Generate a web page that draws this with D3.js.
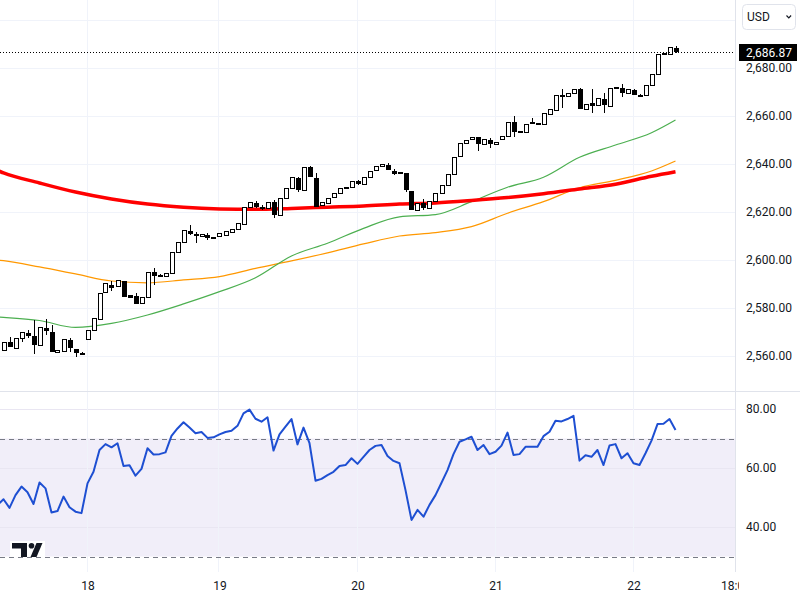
<!DOCTYPE html>
<html>
<head>
<meta charset="utf-8">
<script src="https://cdn.jsdelivr.net/npm/d3@7"></script>
<style>
  body { margin: 0; background: #fff; }
  svg { display: block; font-family: Roboto, "Noto Sans", sans-serif; }
</style>
</head>
<body>
<script>
// hourly candles, bar 0 = first visible bar
var open = [
  2562.8, 2565.7, 2563.2, 2567.4, 2569.7, 2568.3, 2564.6, 2571.5, 2569.9, 2561.7,
  2562.2, 2566.7, 2562.8, 2561.3, 2567.0, 2570.8, 2575.7, 2586.5, 2589.5, 2589.2,
  2591.2, 2585.4, 2585.0, 2582.0, 2584.7, 2595.1, 2593.7, 2593.6, 2594.4, 2603.2,
  2607.6, 2612.1, 2610.8, 2610.0, 2610.4, 2609.5, 2610.0, 2610.4, 2611.7, 2612.8,
  2615.0, 2622.0, 2623.9, 2622.2, 2622.0, 2624.0, 2618.5, 2625.7, 2629.9, 2634.0,
  2629.2, 2638.6, 2634.0, 2622.6, 2624.0, 2626.0, 2627.8, 2630.3, 2630.3, 2633.0,
  2631.7, 2634.5, 2637.5, 2639.2, 2639.6, 2637.2, 2636.4, 2636.1, 2628.9, 2620.5,
  2623.6, 2621.5, 2624.6, 2627.8, 2631.3, 2635.8, 2643.0, 2648.6, 2650.4, 2651.1,
  2648.2, 2650.0, 2648.6, 2650.4, 2651.7, 2657.4, 2653.4, 2653.2, 2657.4, 2656.9,
  2656.7, 2660.7, 2662.5, 2668.4, 2668.3, 2669.5, 2671.1, 2662.8, 2665.3, 2664.5,
  2667.0, 2663.9, 2672.0, 2671.5, 2669.5, 2670.8, 2668.9, 2668.75, 2672.9, 2677.5,
  2685.8, 2685.8, 2688.2
];
var high = [
  2566.0, 2568.0, 2567.4, 2569.9, 2570.8, 2575.0, 2571.9, 2575.3, 2572.9, 2562.5,
  2567.0, 2567.4, 2562.8, 2561.6, 2570.8, 2575.7, 2586.4, 2590.3, 2591.2, 2591.7,
  2591.2, 2585.4, 2586.4, 2584.7, 2595.0, 2596.5, 2594.0, 2594.7, 2603.2, 2607.4,
  2612.5, 2614.6, 2611.8, 2610.8, 2611.2, 2609.5, 2611.1, 2612.0, 2612.8, 2615.3,
  2622.2, 2624.0, 2624.5, 2623.0, 2624.3, 2625.0, 2625.7, 2629.9, 2634.5, 2634.7,
  2638.6, 2639.0, 2636.4, 2624.0, 2626.0, 2627.8, 2629.9, 2630.3, 2633.0, 2633.5,
  2634.5, 2637.2, 2639.2, 2639.9, 2640.5, 2637.8, 2636.7, 2636.4, 2628.9, 2623.6,
  2625.3, 2624.6, 2627.8, 2631.3, 2635.8, 2643.0, 2648.6, 2650.0, 2651.1, 2651.1,
  2650.4, 2651.0, 2649.3, 2651.5, 2657.6, 2660.0, 2653.7, 2656.5, 2659.2, 2657.1,
  2661.1, 2662.8, 2668.75, 2671.25, 2669.5, 2671.1, 2671.8, 2664.9, 2671.25, 2667.4,
  2669.7, 2671.5, 2672.0, 2673.3, 2671.1, 2671.1, 2669.2, 2672.9, 2677.5, 2685.8,
  2686.1, 2688.6, 2689.2
];
var low = [
  2562.8, 2563.6, 2563.2, 2566.0, 2567.4, 2560.8, 2564.6, 2568.8, 2561.8, 2561.7,
  2562.2, 2561.8, 2559.5, 2560.7, 2567.0, 2570.8, 2575.7, 2586.5, 2587.2, 2589.2,
  2585.1, 2584.7, 2581.7, 2582.0, 2584.7, 2589.6, 2593.7, 2593.6, 2594.4, 2603.2,
  2607.6, 2610.4, 2607.0, 2610.0, 2608.3, 2609.0, 2610.0, 2610.4, 2611.7, 2612.8,
  2615.0, 2622.0, 2621.5, 2621.0, 2622.0, 2617.6, 2618.5, 2625.7, 2629.9, 2628.5,
  2629.2, 2635.0, 2622.0, 2622.6, 2624.0, 2626.0, 2627.8, 2629.7, 2630.3, 2631.3,
  2631.7, 2634.5, 2637.5, 2639.2, 2637.5, 2635.4, 2636.3, 2628.5, 2621.0, 2620.5,
  2620.8, 2621.5, 2624.6, 2627.8, 2631.3, 2635.8, 2643.0, 2648.6, 2650.4, 2645.4,
  2648.2, 2646.8, 2648.6, 2650.4, 2651.7, 2651.4, 2653.4, 2653.2, 2657.2, 2656.9,
  2656.7, 2660.7, 2662.5, 2663.5, 2668.3, 2669.5, 2663.2, 2662.8, 2661.1, 2664.5,
  2661.1, 2663.9, 2671.4, 2667.8, 2669.5, 2668.8, 2668.3, 2668.75, 2672.9, 2677.5,
  2685.8, 2685.8, 2686.4
];
var close = [
  2566.0, 2563.9, 2567.4, 2569.9, 2569.0, 2564.9, 2571.9, 2570.5, 2561.8, 2562.5,
  2567.0, 2563.6, 2561.7, 2561.0, 2570.8, 2575.7, 2586.4, 2590.3, 2588.8, 2591.7,
  2585.1, 2584.7, 2582.2, 2584.7, 2595.0, 2594.0, 2593.9, 2594.7, 2603.2, 2607.4,
  2612.5, 2611.4, 2610.4, 2610.8, 2609.5, 2609.0, 2611.1, 2612.0, 2612.8, 2615.3,
  2622.2, 2624.0, 2622.8, 2622.0, 2624.3, 2618.8, 2625.7, 2629.9, 2634.5, 2629.5,
  2638.6, 2635.0, 2622.2, 2624.0, 2626.0, 2627.8, 2629.9, 2629.7, 2633.0, 2632.0,
  2634.5, 2637.2, 2639.2, 2639.9, 2637.8, 2636.4, 2636.6, 2629.5, 2621.5, 2623.6,
  2622.0, 2624.6, 2627.8, 2631.3, 2635.8, 2643.0, 2648.6, 2650.0, 2651.1, 2648.6,
  2650.4, 2648.9, 2649.3, 2651.5, 2657.6, 2653.5, 2653.7, 2656.5, 2657.5, 2657.1,
  2661.1, 2662.8, 2668.75, 2668.6, 2669.5, 2671.1, 2663.2, 2664.9, 2664.6, 2667.4,
  2664.9, 2671.5, 2671.4, 2669.7, 2671.1, 2669.2, 2668.7, 2672.9, 2677.5, 2685.8,
  2686.1, 2688.6, 2686.87
];
var lastPrice = 2686.87;

// moving averages, read every 6 bars
var maIdx = [-1, 0, 6, 12, 18, 24, 30, 36, 42, 48, 54, 60, 66, 72, 78, 84, 90, 96, 102, 108, 112];
var maRed = [2637.3, 2636.3, 2632.1, 2628.3, 2625.4, 2623.3, 2622.0, 2621.3, 2621.1, 2621.5, 2622.0,
  2622.5, 2623.3, 2623.8, 2624.8, 2626.0, 2627.6, 2629.6, 2631.6, 2634.9, 2636.8];
var maOrange = [2600.0, 2599.7, 2597.1, 2594.2, 2591.25, 2590.5, 2591.7, 2593.1, 2596.5, 2599.6, 2603.0,
  2606.7, 2610.0, 2611.4, 2613.9, 2619.5, 2624.3, 2630.1, 2633.2, 2637.1, 2641.25];
var maGreen = [2576.25, 2576.1, 2574.8, 2571.9, 2573.6, 2577.1, 2581.7, 2586.8, 2592.6, 2601.7, 2607.0,
  2613.2, 2618.0, 2618.9, 2624.3, 2630.3, 2634.5, 2642.8, 2647.9, 2653.0, 2658.3];

// RSI, first value belongs to bar -1
var rsiStart = -1;
var rsi = [
  47.5, 49.4, 46.5, 50.8, 53.7, 51.8, 47.8, 55.1, 53.1, 44.9, 45.4,
  50.3, 46.7, 45.2, 44.7, 54.8, 58.7, 66.1, 68.1, 67.0, 68.4,
  60.7, 60.9, 57.4, 59.7, 66.7, 64.6, 64.7, 65.3, 70.9, 73.4,
  75.5, 73.7, 71.8, 72.2, 70.2, 70.4, 71.4, 72.2, 72.6, 74.3,
  78.5, 79.8, 76.7, 75.7, 77.2, 65.9, 71.4, 74.0, 76.6, 68.0,
  73.7, 68.4, 55.7, 56.3, 57.6, 58.7, 60.7, 61.0, 63.3, 61.4,
  63.8, 66.1, 67.5, 67.8, 64.1, 62.4, 61.6, 52.5, 42.4, 45.8,
  43.5, 47.5, 50.8, 55.0, 59.3, 64.7, 68.9, 69.7, 70.6, 66.1,
  67.8, 64.7, 65.5, 67.6, 72.0, 64.4, 64.7, 67.2, 67.2, 67.2,
  70.8, 72.3, 76.0, 75.8, 76.6, 77.7, 62.5, 64.3, 63.8, 66.1,
  61.0, 67.6, 68.1, 63.3, 65.0, 61.6, 61.0, 65.0, 69.3, 74.9,
  75.0, 76.6, 72.9
];

// time axis
var dayIdx = [14, 36, 59, 82, 105, 122];
var dayLabels = ['18', '19', '20', '21', '22', '18:00'];

var priceTicks = [2560, 2580, 2600, 2620, 2640, 2660, 2680];
var priceGrid = [2560, 2580, 2600, 2620, 2640, 2660, 2680, 2700];
var rsiTicks = [40, 60, 80];
var rsiBand = [30, 70];

var W = 800, H = 600, plotR = 735, paneSplit = 391, paneBottom = 572;

var x = d3.scaleLinear().domain([0, 122]).range([3.5, 735.5]);
var y = d3.scaleLinear().domain([2560, 2680]).range([356, 68]);
var yr = d3.scaleLinear().domain([40, 80]).range([527, 409]);

var svg = d3.select('body')
  .append('svg')
  .attr('width', W)
  .attr('height', H);

var defs = svg.append('defs');
defs.append('clipPath').attr('id', 'clipMain')
  .append('rect').attr('x', 0).attr('y', 0).attr('width', plotR).attr('height', paneSplit);
defs.append('clipPath').attr('id', 'clipRsi')
  .append('rect').attr('x', 0).attr('y', paneSplit).attr('width', plotR).attr('height', paneBottom - paneSplit);
defs.append('clipPath').attr('id', 'clipTime')
  .append('rect').attr('x', 0).attr('y', paneBottom).attr('width', 739).attr('height', H - paneBottom);

// rsi band
svg.append('rect')
  .attr('x', 0).attr('width', plotR)
  .attr('y', yr(rsiBand[1]))
  .attr('height', yr(rsiBand[0]) - yr(rsiBand[1]))
  .attr('fill', '#f1eef9');

// grid
svg.append('g').selectAll('line')
  .data(priceGrid).enter().append('line')
  .attr('x1', 0).attr('x2', plotR)
  .attr('y1', function(d) { return Math.round(y(d)) + 0.5; })
  .attr('y2', function(d) { return Math.round(y(d)) + 0.5; })
  .attr('stroke', '#f0f3fa');

svg.append('g').selectAll('line')
  .data(rsiTicks).enter().append('line')
  .attr('x1', 0).attr('x2', plotR)
  .attr('y1', function(d) { return Math.round(yr(d)) + 0.5; })
  .attr('y2', function(d) { return Math.round(yr(d)) + 0.5; })
  .attr('stroke', '#e9e6f2');

svg.append('g').selectAll('line')
  .data(dayIdx.slice(0, -1)).enter().append('line')
  .attr('x1', function(d) { return Math.round(x(d)) - 0.5; })
  .attr('x2', function(d) { return Math.round(x(d)) - 0.5; })
  .attr('y1', 0).attr('y2', paneBottom)
  .attr('stroke', '#f0f3fa');

svg.append('g').selectAll('line')
  .data(rsiBand).enter().append('line')
  .attr('x1', 0).attr('x2', plotR)
  .attr('y1', function(d) { return Math.round(yr(d)) + 0.5; })
  .attr('y2', function(d) { return Math.round(yr(d)) + 0.5; })
  .attr('stroke', '#787b86')
  .attr('stroke-dasharray', '5,4');

// moving averages (under the candles)
var main = svg.append('g').attr('clip-path', 'url(#clipMain)');

var maLine = function(vals) {
  return d3.line()
    .x(function(d, i) { return x(maIdx[i]); })
    .y(function(d) { return y(d); })
    .curve(d3.curveMonotoneX)(vals);
};

main.append('path').attr('d', maLine(maOrange))
  .attr('fill', 'none').attr('stroke', '#ff9800').attr('stroke-width', 1.2);
main.append('path').attr('d', maLine(maGreen))
  .attr('fill', 'none').attr('stroke', '#4caf50').attr('stroke-width', 1.2);
main.append('path').attr('d', maLine(maRed))
  .attr('fill', 'none').attr('stroke', '#ff0000').attr('stroke-width', 3.5);

// candles
var bars = d3.range(open.length);

var candles = main.selectAll('g.candle')
  .data(bars).enter()
  .append('g')
  .attr('class', 'candle')
  .attr('shape-rendering', 'crispEdges');

candles.append('line')
  .attr('x1', function(i) { return Math.round(x(i)) + 0.5; })
  .attr('x2', function(i) { return Math.round(x(i)) + 0.5; })
  .attr('y1', function(i) { return Math.round(y(high[i])); })
  .attr('y2', function(i) { return Math.round(y(low[i])); })
  .attr('stroke', '#000')
  .attr('stroke-width', 1);

candles.append('rect')
  .attr('x', function(i) {
    var up = close[i] >= open[i];
    return Math.round(x(i)) - (up ? 1.5 : 1.5);
  })
  .attr('width', function(i) { return close[i] >= open[i] ? 4 : 4; })
  .attr('y', function(i) { return Math.round(y(Math.max(open[i], close[i]))) + 0.5; })
  .attr('height', function(i) { return Math.max(1, Math.round(Math.abs(y(open[i]) - y(close[i])))); })
  .attr('fill', function(i) { return close[i] >= open[i] ? '#fff' : '#000'; })
  .attr('stroke', '#000')
  .attr('stroke-width', 1);

// last price line
main.append('line')
  .attr('x1', 0).attr('x2', plotR)
  .attr('y1', Math.round(y(lastPrice)) + 0.5)
  .attr('y2', Math.round(y(lastPrice)) + 0.5)
  .attr('stroke', '#000')
  .attr('stroke-dasharray', '1,2');

// rsi line
svg.append('g').attr('clip-path', 'url(#clipRsi)')
  .append('path')
  .attr('d', d3.line()
    .x(function(d, i) { return x(i + rsiStart); })
    .y(function(d) { return yr(d); })(rsi))
  .attr('fill', 'none')
  .attr('stroke', '#1e4fd2')
  .attr('stroke-width', 2)
  .attr('stroke-linejoin', 'round');

// borders
svg.append('line')
  .attr('x1', plotR + 0.5).attr('x2', plotR + 0.5)
  .attr('y1', 0).attr('y2', paneBottom)
  .attr('stroke', '#e0e3eb');
svg.append('line')
  .attr('x1', 0).attr('x2', W)
  .attr('y1', paneSplit + 0.5).attr('y2', paneSplit + 0.5)
  .attr('stroke', '#e0e3eb');

// price axis
var fmt = d3.format(',.2f');
var priceAxis = svg.append('g')
  .attr('transform', 'translate(' + (plotR + 5) + ',0)')
  .call(d3.axisRight(y).tickValues(priceTicks).tickFormat(fmt).tickSize(0).tickPadding(6));
var rsiAxis = svg.append('g')
  .attr('transform', 'translate(' + (plotR + 5) + ',0)')
  .call(d3.axisRight(yr).tickValues(rsiTicks).tickFormat(fmt).tickSize(0).tickPadding(6));

[priceAxis, rsiAxis].forEach(function(a) {
  a.select('.domain').remove();
  a.selectAll('text')
    .attr('fill', '#131722')
    .style('font-size', '12px')
    .style('font-family', 'Roboto, "Noto Sans", sans-serif');
});

// time axis
var timeAxis = svg.append('g')
  .attr('clip-path', 'url(#clipTime)')
  .append('g')
  .attr('transform', 'translate(0,' + paneBottom + ')')
  .call(d3.axisBottom(x).tickValues(dayIdx)
    .tickFormat(function(d, i) { return dayLabels[i]; })
    .tickSize(0).tickPadding(9));
timeAxis.select('.domain').remove();
timeAxis.selectAll('text')
  .attr('fill', '#131722')
  .style('font-size', '12px')
  .style('font-family', 'Roboto, "Noto Sans", sans-serif');

// last price label
svg.append('rect')
  .attr('x', plotR + 4).attr('y', Math.round(y(lastPrice)) - 8)
  .attr('width', 58).attr('height', 17)
  .attr('fill', '#000');
svg.append('text')
  .attr('x', plotR + 11).attr('y', Math.round(y(lastPrice)) + 0.5)
  .attr('dy', '0.35em')
  .attr('fill', '#fff')
  .style('font-size', '12px')
  .text(fmt(lastPrice));

// currency button
svg.append('rect')
  .attr('x', 742.5).attr('y', 4.5)
  .attr('width', 53).attr('height', 25)
  .attr('rx', 4)
  .attr('fill', '#fff')
  .attr('stroke', '#e0e3eb');
svg.append('text')
  .attr('x', 747).attr('y', 21)
  .attr('fill', '#131722')
  .style('font-size', '12px')
  .text('USD');
svg.append('path')
  .attr('d', 'M786.5,15.5 L788.8,17.8 L791.1,15.5')
  .attr('fill', 'none')
  .attr('stroke', '#131722')
  .attr('stroke-width', 1.2);

// logo
var logo = svg.append('g');
logo.append('rect')
  .attr('x', 10).attr('y', 541).attr('width', 35).attr('height', 16)
  .attr('fill', '#fff');
logo.append('path')
  .attr('d', 'M12,543 H27 V557 H21 V548.5 H12 Z')
  .attr('fill', '#131722');
logo.append('circle')
  .attr('cx', 31.5).attr('cy', 545.8).attr('r', 2.8)
  .attr('fill', '#131722');
logo.append('path')
  .attr('d', 'M36.5,543 H42.5 L36.5,557 H30.5 Z')
  .attr('fill', '#131722');
</script>
</body>
</html>
